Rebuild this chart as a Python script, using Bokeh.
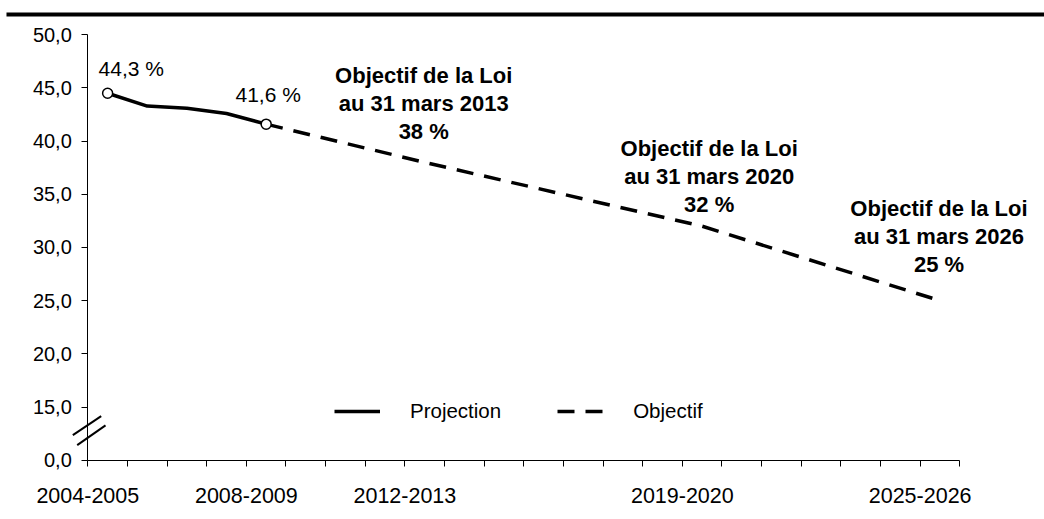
from bokeh.plotting import figure
from bokeh.models import ColumnDataSource, FixedTicker, Legend, LegendItem, Range1d
from bokeh.core.properties import value
from bokeh.embed import file_html
from bokeh.resources import INLINE

# ---------------- data ----------------
years = ["2004-2005", "2005-2006", "2006-2007", "2007-2008", "2008-2009",
         "2009-2010", "2010-2011", "2011-2012", "2012-2013", "2013-2014",
         "2014-2015", "2015-2016", "2016-2017", "2017-2018", "2018-2019",
         "2019-2020", "2020-2021", "2021-2022", "2022-2023", "2023-2024",
         "2024-2025", "2025-2026"]

proj_idx = [0, 1, 2, 3, 4]
proj_values = [44.5, 43.3, 43.1, 42.6, 41.6]

obj_idx = [4, 8, 15, 21]
obj_values = [41.6, 38.0, 32.0, 25.0]

point_label_idx = [0, 4]
point_labels = ["44,3 %", "41,6 %"]

ann_idx = [8, 15, 21]
ann_texts = [["Objectif de la Loi", "au 31 mars 2013", "38 %"],
             ["Objectif de la Loi", "au 31 mars 2020", "32 %"],
             ["Objectif de la Loi", "au 31 mars 2026", "25 %"]]

y_ticks = [10, 15, 20, 25, 30, 35, 40, 45, 50]
y_tick_labels = ["0,0", "15,0", "20,0", "25,0", "30,0", "35,0", "40,0", "45,0", "50,0"]

x_label_idx = [0, 4, 8, 15, 21]

legend_labels = ["Projection", "Objectif"]

FONT = value("Liberation Sans")

# ---------------- figure ----------------
X0, X1 = -2.2026, 24.137
Y0, Y1 = 4.424, 53.225
p = figure(width=1044, height=519,
           x_range=Range1d(X0, X1), y_range=Range1d(Y0, Y1),
           output_backend="svg", toolbar_location=None, min_border=0)
p.outline_line_color = None
p.xgrid.visible = False
p.ygrid.visible = False
p.background_fill_color = "white"
p.border_fill_color = "white"

# top rule
p.segment(x0=[X0 + 0.151], y0=[51.909], x1=[X1], y1=[51.909],
          line_color="black", line_width=4)

# axes
n_cat = len(years)
xa = p.xaxis[0]
xa.fixed_location = y_ticks[0]
xa.bounds = (0, n_cat)
xa.ticker = FixedTicker(ticks=list(range(n_cat + 1)))
xa.major_label_overrides = {i: (years[i] if i in x_label_idx else "") for i in range(n_cat + 1)}
xa.minor_tick_line_color = None
xa.major_tick_in = 0
xa.major_tick_out = 6
xa.major_label_standoff = 22
xa.major_label_text_font = "Liberation Sans"
xa.major_label_text_font_size = "21.5px"
xa.major_label_text_color = "black"
xa.axis_line_color = "black"
xa.major_tick_line_color = "black"

ya = p.yaxis[0]
ya.fixed_location = 0
ya.bounds = (y_ticks[0], y_ticks[-1])
ya.ticker = FixedTicker(ticks=y_ticks)
ya.major_label_overrides = {t: l for t, l in zip(y_ticks, y_tick_labels)}
ya.minor_tick_line_color = None
ya.major_tick_in = 0
ya.major_tick_out = 6
ya.major_label_standoff = 10
ya.major_label_text_font = "Liberation Sans"
ya.major_label_text_font_size = "20px"
ya.major_label_text_color = "black"
ya.axis_line_color = "black"
ya.major_tick_line_color = "black"

# axis break marks
p.segment(x0=[-0.378, -0.267], y0=[12.36, 11.42], x1=[0.338, 0.447], y1=[14.15, 13.28],
          line_color="black", line_width=2)

# series
px = [i + 0.5 for i in proj_idx]
ox = [i + 0.5 for i in obj_idx]
r_obj = p.line(ox, obj_values, line_color="black", line_width=3.5, line_dash="17 11")
r_proj = p.line(px, proj_values, line_color="black", line_width=3.5)
lab_x = [px[proj_idx.index(i)] for i in point_label_idx]
lab_y = [proj_values[proj_idx.index(i)] for i in point_label_idx]
p.scatter(lab_x, lab_y, marker="circle", size=10, fill_color="white",
          line_color="black", line_width=1.5)

# point labels
src_pl = ColumnDataSource(dict(x=lab_x, y=lab_y, text=point_labels,
                               xo=[-9, 2], yo=[-25, -30], al=["left", "center"]))
p.text(x="x", y="y", text="text", source=src_pl, x_offset="xo", y_offset="yo",
       text_align="al", text_baseline="alphabetic", text_font=FONT,
       text_font_size="21px", text_color="black")

# objective annotations
first_off = [-87.0, -77.5, -92.0]
x_off = [-1, 7, -1]
line_gap = 28.0
ax_, ay_, at_, axo, ayo = [], [], [], [], []
for k, idx in enumerate(ann_idx):
    v = obj_values[obj_idx.index(idx)]
    for j, t in enumerate(ann_texts[k]):
        ax_.append(idx + 0.5)
        ay_.append(v)
        at_.append(t)
        axo.append(x_off[k])
        ayo.append(first_off[k] + j * line_gap)
src_an = ColumnDataSource(dict(x=ax_, y=ay_, text=at_, xo=axo, yo=ayo))
p.text(x="x", y="y", text="text", source=src_an, x_offset="xo", y_offset="yo",
       text_align="center", text_baseline="alphabetic", text_font=FONT,
       text_font_style="bold", text_font_size="22px", text_color="black")

# legend
legend = Legend(items=[LegendItem(label=legend_labels[0], renderers=[r_proj]),
                       LegendItem(label=legend_labels[1], renderers=[r_obj])],
                location=(334, 96), orientation="horizontal",
                glyph_width=46, glyph_height=20, label_standoff=30, spacing=56,
                padding=0, margin=0, border_line_color=None,
                background_fill_alpha=0,
                label_text_font="Liberation Sans", label_text_font_size="20.5px",
                label_text_color="black")
p.add_layout(legend)

open("out.html", "w").write(file_html(p, INLINE))
